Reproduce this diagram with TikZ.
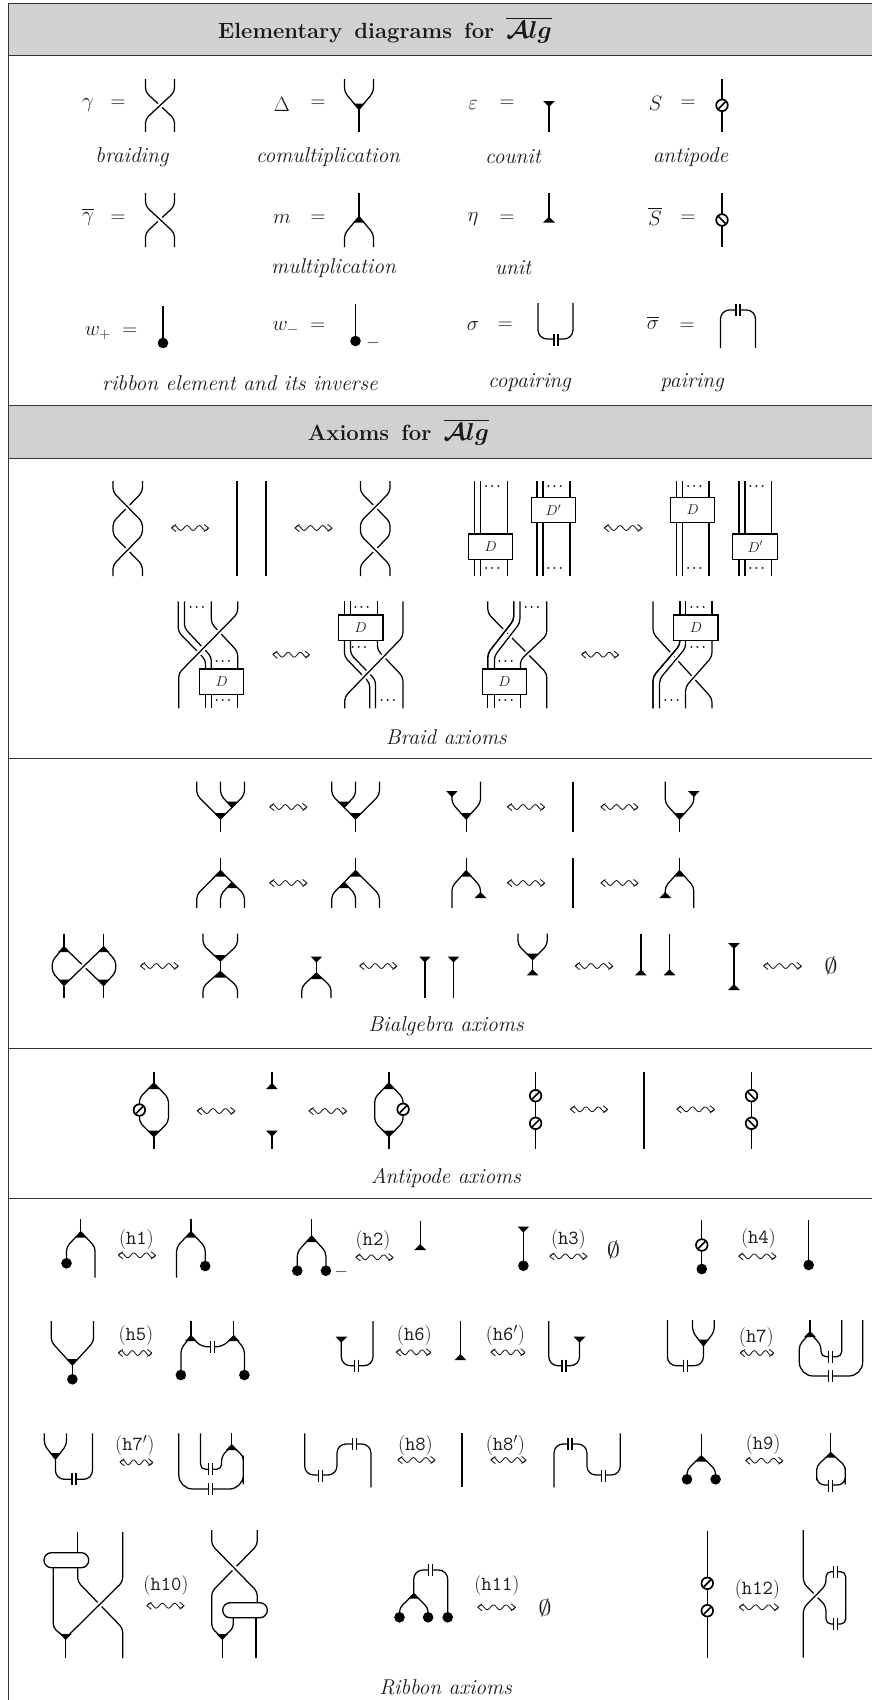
\documentclass[tikz,border=0pt]{standalone}
\usepackage{amsmath,amssymb,bm,graphicx}
\usetikzlibrary{decorations.pathmorphing,arrows.meta}
\newcounter{nd}
\tikzset{
 st/.style={line width=1.25pt,line join=round},
 rc/.style={rounded corners=4pt},
 over/.style={preaction={draw=white,line width=5.5pt}},
 lab/.style={inner sep=0pt,font=\huge,text=black!90},
 captxt/.style={lab,font=\fontsize{21.4}{25}\selectfont\itshape},
 hl/.style={lab,font=\fontsize{20}{23}\selectfont},
 headtxt/.style={lab,font=\fontsize{22}{26}\selectfont\bfseries},
 rule/.style={line width=1pt,draw=black!80},
 boxd/.style={draw,fill=white,line width=1.3pt},
 wav/.style={line width=.85pt,draw=black!90,line join=round},
}
\definecolor{hgray}{RGB}{208,209,211}
\newcommand\Tx[4][]{\stepcounter{nd}\node[lab,#1] (n\arabic{nd}) at (#2,#3) {#4};}
\newcommand\Dots[2]{\Tx[font=\large,text=black]{#1}{#2}{$\bm{\cdots}$}}
\newcommand\hh[3]{\Tx[hl]{#1}{#2}{(\texttt{#3})}}
\newcommand\Alg{$\scalebox{1.18}{$\overline{\bm{\mathcal{A}}\bm{lg}}$}$}
\newcommand\Emp{\scalebox{1.28}[1.05]{$\emptyset$}}
\newcommand\DnT[2]{\fill[black] ({#1-5.8},{#2-6})--({#1+5.8},{#2-6})--(#1,#2)--cycle;}
\newcommand\UpT[2]{\fill[black] ({#1-5.8},{#2+6})--({#1+5.8},{#2+6})--(#1,#2)--cycle;}
\newcommand\Dt[2]{\fill[black] (#1,#2) circle (5.3pt);}
\newcommand\Tk[2]{\fill[white] ({#1-2},{#2-3})rectangle({#1+2},{#2+3});
 \draw[st] ({#1-2},{#2-6})--({#1-2},{#2+6}) ({#1+2},{#2-6})--({#1+2},{#2+6});}
\newcommand\An[3]{\draw[fill=white,line width=1.7pt] (#1,#2) circle (5.8pt);
 \draw[line width=1.6pt] ({#1-#3*3.4},{#2+3.4})--({#1+#3*3.4},{#2-3.4});}
% comultiplication: x, dx, topL, topR, bend, apex, bottom
\newcommand\Cm[7]{\draw[st,rc] ({#1-#2},#3)--({#1-#2},#5)--(#1,#6);
 \draw[st,rc] ({#1+#2},#4)--({#1+#2},#5)--(#1,#6);
 \draw[st] (#1,#6)--(#1,#7); \DnT{#1}{#6}}
% multiplication: x, dx, top, apex, bend, botL, botR
\newcommand\Ml[7]{\draw[st] (#1,#3)--(#1,#4);
 \draw[st,rc] (#1,#4)--({#1-#2},#5)--({#1-#2},#6);
 \draw[st,rc] (#1,#4)--({#1+#2},#5)--({#1+#2},#7);
 \UpT{#1}{#4}}
\newcommand\Ln[3]{\draw[st] (#1,#2)--(#1,#3);}
\newcommand\Wv[3]{\draw[wav] plot[domain=0:1,samples=46,smooth] ({#1+(#2-#1)*\x},{#3-2.4*sin(1080*\x)});
 \draw[wav] ({#1+4.4},{#3-3.6})--(#1,#3)--({#1+4.4},{#3+3.6}) ({#2-4.4},{#3-3.6})--(#2,#3)--({#2-4.4},{#3+3.6});}
\newcommand\Bx[6]{\draw[boxd] (#1,#3) rectangle (#2,#4);
 \Tx[font=\Large]{{(#1+#2)/2}}{{(#3+#4)/2}}{$#5$}}
\newcommand\Rb[4]{\draw[boxd,rounded corners=7.4pt] (#1,#3) rectangle (#2,#4);}
\begin{document}
\begin{tikzpicture}[x=1pt,y=-1pt]
\useasboundingbox (0,0) rectangle (872,1700);
% frame and headers
\path[fill=hgray] (8,3) rectangle (872,55);
\path[fill=hgray] (8,405) rectangle (872,458);
\draw[rule] (8,3)--(872,3) (8,55)--(872,55) (8,405)--(872,405) (8,458)--(872,458);
\draw[rule] (8,3)--(8,1700);
\draw[rule] (8,758)--(872,758);
\draw[rule] (8,1048)--(872,1048);
\draw[rule] (8,1198.5)--(872,1198.5);
\Tx[headtxt]{385}{30}{\spaceskip=.55em Elementary diagrams for \Alg}
\Tx[headtxt]{398.4}{432}{\spaceskip=.55em Axioms for \Alg}
% row 1
\Tx{88}{105}{$\gamma$}\Tx{118}{104}{$=$}
\draw[st,rc] (145.5,79)--(145.5,92)--(174.5,119)--(174.5,132);
\draw[st,rc,over] (174.5,79)--(174.5,92)--(145.5,119)--(145.5,132);
\Tx{282}{104}{$\Delta$}\Tx{318}{104}{$=$}
\Cm{359}{14.5}{79}{79}{92}{109.5}{132}
\Tx{473}{105}{$\varepsilon$}\Tx{507}{104}{$=$}
\Ln{549}{101}{132}\DnT{549}{107}
\Tx{655.5}{103}{$S$}\Tx{688}{104}{$=$}
\Ln{722}{79}{132}\An{722}{105.3}{1}
\Tx[captxt]{132}{157}{braiding}\Tx[captxt]{328}{157}{comultiplication}\Tx[captxt]{513}{157}{counit}\Tx[captxt]{690.5}{157}{antipode}
% row 2
\Tx{88}{217}{$\overline{\gamma}$}\Tx{118}{219}{$=$}
\draw[st,rc] (174.5,193)--(174.5,206)--(145.5,233)--(145.5,247);
\draw[st,rc,over] (145.5,193)--(145.5,206)--(174.5,233)--(174.5,247);
\Tx{282}{219}{$m$}\Tx{318}{219}{$=$}
\Ml{359}{14.5}{193}{216.5}{234}{247}{247}
\Tx{473}{219}{$\eta$}\Tx{507}{219}{$=$}
\Ln{549}{193}{218}\UpT{549}{216.5}
\Tx{655}{216}{$\overline{S}$}\Tx{688}{219}{$=$}
\Ln{722}{193}{247}\An{722}{220}{-1}
\Tx[captxt]{333.5}{268}{multiplication}\Tx[captxt]{513}{268}{unit}
% row 3
\Tx{111}{333}{$w_{\mbox{\Large$+$}}\;=$}
\Ln{163}{306}{343}\Dt{163}{343}
\Tx{299}{328}{$w_{\mbox{\Large$-$}}\;=$}
\Ln{355.5}{304}{341}\Dt{355.5}{341}\Tx[font=\LARGE]{373}{343}{$-$}
\Tx{473}{326}{$\sigma$}\Tx{505}{326}{$=$}
\draw[st,rounded corners=9pt] (538,303)--(538,339)--(573,339)--(573,303);\Tk{556}{340}
\Tx{653}{323}{$\overline{\sigma}$}\Tx{687}{327}{$=$}
\draw[st,rounded corners=9pt] (720.5,348)--(720.5,310)--(755.5,310)--(755.5,348);\Tk{738}{310}
\Tx[captxt]{240}{383}{ribbon element and its inverse}\Tx[captxt]{529.5}{383}{copairing}\Tx[captxt]{692}{383}{pairing}
% Braid axioms, first row
\draw[st,rc] (142.4,481)--(142.4,492)--(113,522)--(113,535)--(142.4,565)--(142.4,576);
\draw[st,rc,over] (113,481)--(113,492)--(142.4,522)--(142.4,535)--(113,565)--(113,576);
\Wv{171.6}{208.5}{528}
\Ln{237}{481}{576}\Ln{266}{481}{576}
\Wv{295}{332}{528}
\draw[st,rc] (360.4,481)--(360.4,492)--(390,522)--(390,535)--(360.4,565)--(360.4,576);
\draw[st,rc,over] (390,481)--(390,492)--(360.4,522)--(360.4,535)--(390,565)--(390,576);
\Ln{474.6}{481}{576}\Ln{480.3}{481}{576}\Ln{507.6}{481}{576}
\Bx{468.5}{512.8}{534}{559.3}{D}{}
\Dots{493.5}{487}\Dots{493.5}{569}
\Ln{537}{481}{576}\Ln{543}{481}{576}\Ln{570}{481}{576}
\Bx{531.2}{575.6}{497.3}{522.7}{D'}{}
\Dots{555.8}{487}\Dots{555.8}{569}
\Wv{604.4}{642}{528}
\Ln{676.6}{481}{576}\Ln{682.7}{481}{576}\Ln{709}{481}{576}
\Bx{670.5}{714.8}{497.3}{522.7}{D}{}
\Dots{695.5}{487}\Dots{695.5}{569}
\Ln{739}{481}{576}\Ln{745}{481}{576}\Ln{771.5}{481}{576}
\Bx{732.8}{777.6}{534}{559.3}{D'}{}
\Dots{757.8}{487}\Dots{757.8}{569}
% Braid axioms, second row
\draw[st,rc] (178.2,601.3)--(178.2,631.7)--(205.6,660)--(205.6,669);
\draw[st,rc] (184.4,601.3)--(184.4,628)--(211.3,656.7)--(211.3,669);
\draw[st,rc] (211.3,601.3)--(211.3,623.3)--(237.7,651.7)--(237.7,669);
\draw[st,rc,over] (237.7,601.3)--(237.7,613.3)--(178.7,673.3)--(178.7,708.3);
\Ln{205.6}{694}{708.3}\Ln{211.3}{694}{708.3}\Ln{237.7}{694}{708.3}
\Bx{199.5}{243.8}{669}{694.3}{D}{}
\Dots{198}{607.7}\Dots{224}{661.7}\Dots{224}{701}
\Wv{273}{309.4}{654.7}
\Ln{344.4}{601.3}{615}\Ln{350.5}{601.3}{615}\Ln{377.4}{601.3}{615}
\draw[st,rc] (344.4,640)--(344.4,656.7)--(369.8,683)--(369.8,708.3);
\draw[st,rc] (350.5,640)--(350.5,654)--(375.5,680)--(375.5,708.3);
\draw[st,rc] (377.4,640)--(377.4,650)--(402.9,676.7)--(402.9,708.3);
\draw[st,rc,over] (402.9,601.3)--(402.9,636.7)--(344.8,696.7)--(344.8,708.3);
\Bx{338.2}{383}{615}{640.3}{D}{}
\Dots{362.8}{607.7}\Dots{360}{647.3}\Dots{389}{701}
\draw[st,rc] (487.8,601.3)--(487.8,613.3)--(546.8,673.3)--(546.8,708.3);
\draw[st,rc,over] (513.8,601.3)--(513.8,620)--(487.8,653.3)--(487.8,669);
\draw[st,rc,over] (519.9,601.3)--(519.9,623)--(494.4,656)--(494.4,669);
\draw[st,rc,over] (546.8,601.3)--(546.8,635)--(520.4,660)--(520.4,669);
\draw[st,rc] (513.8,601.3)--(513.8,620)--(487.8,653.3)--(487.8,669);
\Ln{487.8}{694}{708.3}\Ln{494.4}{694}{708.3}\Ln{520.4}{694}{708.3}
\Bx{482.2}{526.5}{669}{694.3}{D}{}
\Dots{533}{607.7}\Dots{506.7}{661.7}\Dots{506.7}{701}
\Wv{581.7}{618.5}{654.7}
\Ln{679.9}{601.3}{615}\Ln{685.6}{601.3}{615}\Ln{712}{601.3}{615}
\draw[st,rc] (653,601.3)--(653,633.3)--(712,698.3)--(712,708.3);
\draw[st,rc,over] (679.9,640)--(679.9,645)--(653,676.7)--(653,708.3);
\draw[st,rc,over] (685.6,640)--(685.6,648)--(659.6,679)--(659.6,708.3);
\draw[st,rc] (679.9,640)--(679.9,645)--(653,676.7)--(653,708.3);
\draw[st,rc,over] (712,640)--(712,656.7)--(685.6,686.7)--(685.6,708.3);
\Bx{673.8}{718.1}{615}{640.3}{D}{}
\Dots{698.8}{607.7}\Dots{698.8}{647.3}\Dots{672.8}{701}
\Tx[captxt]{446.3}{737}{Braid axioms}
% Bialgebra row 1
\Cm{220.6}{23.8}{781.7}{781.7}{795}{819}{831.7}
\draw[st,rc] (220.6,781.7)--(220.6,795)--(232.2,807.7);\DnT{232.2}{807.7}
\Wv{269.8}{306.9}{807}
\Cm{355.6}{23.8}{781.7}{781.7}{795}{819}{831.7}
\draw[st,rc] (355.6,781.7)--(355.6,795)--(344,807.7);\DnT{344}{807.7}
\Cm{466.2}{14.3}{792}{781.7}{803}{819}{831.7}\DnT{451.9}{797}
\Wv{507.5}{544.6}{807}
\Ln{573}{781.7}{831.7}
\Wv{601}{638}{807}
\Cm{679.5}{14.3}{781.7}{792}{803}{819}{831.7}\DnT{693.8}{797}
% Bialgebra row 2
\Ml{220.6}{23.8}{857.7}{870.7}{894.7}{908}{908}
\draw[st,rc] (220.6,908)--(220.6,894.7)--(232.2,882);\UpT{232.2}{882}
\Wv{269.8}{306.9}{883}
\Ml{355.6}{23.8}{857.7}{870.7}{894.7}{908}{908}
\draw[st,rc] (355.6,908)--(355.6,894.7)--(344,882);\UpT{344}{882}
\Ml{466.2}{14.3}{857.7}{870.7}{886.7}{908}{897.7}\UpT{480.5}{892}
\Wv{507.5}{544.6}{883}
\Ln{573}{857.7}{908}
\Wv{601}{638}{883}
\Ml{679.5}{14.3}{857.7}{870.7}{886.7}{897.7}{908}\UpT{665.2}{892}
% Bialgebra row 3
\Ln{63.9}{933.7}{947}\Ln{103.6}{933.7}{947}\Ln{63.9}{985}{998}\Ln{103.6}{985}{998}
\draw[st,rc] (63.9,947)--(52.2,961)--(52.2,972)--(63.9,985.5);
\draw[st,rc] (103.6,947)--(115.8,961)--(115.8,972)--(103.6,985.5);
\draw[st] (63.9,947)--(103.6,985.5);
\draw[st,over] (103.6,947)--(63.9,985.5);
\UpT{63.9}{946}\UpT{103.6}{946}\DnT{63.9}{985.5}\DnT{103.6}{985.5}
\Wv{140.6}{178.2}{966}
\Cm{220.3}{17.2}{933.7}{933.7}{945}{961}{972}
\Ml{220.3}{17.2}{972}{971.5}{986.7}{998}{998}
\DnT{316.4}{962.5}\Ml{316.4}{14.6}{958}{973}{986.7}{998}{998}
\Wv{359.8}{396.9}{966}
\Ln{424.9}{958}{998}\DnT{424.9}{962.5}\Ln{453.5}{958}{998}\DnT{453.5}{962.5}
\Cm{532.6}{14.6}{933.7}{933.7}{945}{959.5}{972}\UpT{532.6}{969.3}
\Wv{575.3}{612.8}{966}
\Ln{640.9}{933.7}{971}\UpT{640.9}{969.3}\Ln{669.5}{933.7}{971}\UpT{669.5}{969.3}
\Ln{734}{945}{986}\DnT{734}{949}\UpT{734}{984}
\Wv{763.7}{801.3}{966}
\Tx{831}{966}{\Emp}
\Tx[captxt]{446}{1026.7}{Bialgebra axioms}
% Antipode
\Ml{153.9}{14.5}{1071.7}{1083}{1098}{1110}{1110}
\Cm{153.9}{14.5}{1110}{1110}{1122}{1136.7}{1148.7}
\An{139.4}{1110}{1}
\Wv{197.3}{234.9}{1111}
\Ln{271.9}{1071.7}{1085}\UpT{271.9}{1083}\Ln{271.9}{1134}{1148.7}\DnT{271.9}{1136.7}
\Wv{309}{346.6}{1111}
\Ml{388.9}{14.2}{1071.7}{1083}{1098}{1110}{1110}
\Cm{388.9}{14.2}{1110}{1110}{1122}{1136.7}{1148.7}
\An{403.1}{1109.3}{1}
\Ln{535.6}{1071.7}{1148.7}\An{535.6}{1095.7}{1}\An{535.6}{1123.3}{1}
\Wv{570.5}{607.6}{1109.3}
\Ln{644}{1071.7}{1148.7}
\Wv{676.9}{714.5}{1109.3}
\Ln{751.5}{1071.7}{1148.7}\An{751.5}{1095.7}{-1}\An{751.5}{1123.3}{-1}
\Tx[captxt]{446}{1177.7}{Antipode axioms}
% Ribbon row 1
\Ml{80.8}{14.3}{1219}{1231.7}{1247}{1263}{1277.7}\Dt{66.5}{1263.3}
\hh{136.4}{1239.3}{h1}\Wv{118.4}{155.5}{1255.3}
\Ml{190.9}{14.3}{1219}{1231.7}{1247}{1277.7}{1266}\Dt{205.2}{1266}
\Ml{311.6}{14.3}{1219}{1236}{1252}{1270.7}{1270.7}\Dt{297.3}{1270.7}\Dt{325.9}{1270.7}
\Tx[font=\LARGE]{341.3}{1272.3}{$-$}
\hh{373}{1240.7}{h2}\Wv{356}{393}{1257.3}
\Ln{420.2}{1220.7}{1246}\UpT{420.2}{1244}
\Ln{523.4}{1228}{1265.7}\DnT{523.4}{1232.5}\Dt{523.4}{1265.7}
\hh{568.4}{1239.3}{h3}\Wv{549.9}{586.9}{1256.3}
\Tx{613.4}{1250}{\Emp}
\Ln{701.8}{1220}{1269}\An{701.8}{1245}{1}\Dt{701.8}{1269}
\hh{758.4}{1238.3}{h4}\Wv{738.8}{775.9}{1256.3}
\Ln{808.7}{1220}{1265}\Dt{808.7}{1265}
% Ribbon row 2
\Cm{72.4}{21.2}{1321}{1321}{1341.7}{1365}{1379}\Dt{72.4}{1379.3}
\hh{135.9}{1335}{h5}\Wv{118.4}{151.8}{1353}
\Ln{190.9}{1321}{1336}\Ln{233.8}{1321}{1336}
\draw[st,rc] (190.9,1336)--(180.9,1349)--(180.9,1375);
\draw[st,rc] (233.8,1336)--(244.4,1349)--(244.4,1375);
\draw[st,rounded corners=6pt] (190.9,1336)--(201,1346.7)--(222.5,1346.7)--(233.8,1336);
\UpT{190.9}{1335}\UpT{233.8}{1335}\Dt{180.9}{1375}\Dt{244.4}{1375}\Tk{212.3}{1347}
\draw[st,rounded corners=9pt] (341.3,1338)--(341.3,1365.7)--(373,1365.7)--(373,1321);
\DnT{341.3}{1342.7}\Tk{356.6}{1365.7}
\hh{414.3}{1335.7}{h6}\Wv{396.3}{430.7}{1352.3}
\Ln{460.4}{1321}{1356}\UpT{460.4}{1354}
\Tx[hl]{505.4}{1335.7}{(\texttt{h6}$'$)}\Wv{491}{525}{1352.3}
\draw[st,rounded corners=9pt] (548.8,1321)--(548.8,1365.7)--(579.5,1365.7)--(579.5,1338);
\DnT{579.5}{1342.7}\Tk{564.1}{1365.7}
\draw[st,rounded corners=9pt] (667.4,1320)--(667.4,1365.7)--(703.4,1365.7)--(703.4,1345);
\Cm{703.4}{10.85}{1320}{1320}{1331.7}{1345.7}{1346}\Tk{685.4}{1365.7}
\hh{756.3}{1337.3}{h7}\Wv{740.4}{773.8}{1353}
\Ln{810}{1320}{1334}
\draw[st] (810,1333) [rounded corners=4pt] --(799.3,1345)--(799.3,1358) [rounded corners=14pt] --(799.3,1376)--(862.7,1376)--(862.7,1320);
\draw[st,rounded corners=5pt] (810,1333)--(821,1345)--(821,1356.7)--(841.7,1356.7)--(841.7,1320);
\UpT{810}{1331}\Tk{830.7}{1356.7}\Tk{830.7}{1376.3}
% Ribbon row 3
\Cm{55.4}{11.1}{1433.3}{1433.3}{1445}{1459}{1462}
\draw[st,rounded corners=9pt] (55.4,1458)--(55.4,1479.3)--(92.5,1479.3)--(92.5,1433.3);\Tk{73.9}{1479.3}
\Tx[hl]{134.8}{1445.7}{(\texttt{h7}$'$)}\Wv{120}{152.8}{1462.3}
\Ln{231.7}{1433.3}{1446}
\draw[st] (178.8,1433.3) [rounded corners=14pt] --(178.8,1489)--(243.3,1489)--(243.3,1470) [rounded corners=4pt] --(243.3,1456)--(231.7,1446);
\draw[st,rounded corners=5pt] (200.5,1433.3)--(200.5,1469.3)--(221.6,1469.3)--(221.6,1456)--(231.7,1446);
\UpT{231.7}{1444}\Tk{210.5}{1469.3}\Tk{210.5}{1489}
\draw[st,rounded corners=9pt] (304.7,1433.3)--(304.7,1475)--(337,1475)--(337,1444)--(370.9,1444)--(370.9,1487.3);
\Tk{320.6}{1475.5}\Tk{354.5}{1444}
\hh{415.4}{1445.7}{h8}\Wv{397.9}{435}{1460}
\Ln{462}{1433}{1487.3}
\Tx[hl]{505.4}{1445.7}{(\texttt{h8}$'$)}\Wv{491}{526}{1460}
\draw[st,rounded corners=9pt] (554,1487.3)--(554,1444)--(586.9,1444)--(586.9,1475)--(620.3,1475)--(620.3,1433.3);
\Tk{570}{1444}\Tk{603.3}{1475.5}
\Ml{701.3}{14.3}{1434}{1455.7}{1470}{1479.3}{1479.3}\Dt{687}{1479.3}\Dt{715.6}{1479.3}
\hh{763.2}{1444}{h9}\Wv{745.7}{782.8}{1460.7}
\Ln{830.7}{1433.3}{1454}
\draw[st] (830.7,1453) [rounded corners=4pt] --(816.7,1466)--(816.7,1476) [rounded corners=8pt] --(816.7,1485)--(845.3,1485)--(845.3,1476) [rounded corners=4pt] --(845.3,1466)--(830.7,1453);
\UpT{830.7}{1451.7}\Tk{830.7}{1485.7}
% Ribbon row 4
\Ln{77.7}{1532}{1553}
\draw[st,rc] (77.7,1567.7)--(77.7,1581.7)--(122.7,1628.3)--(122.7,1658.3);
\draw[st,rc,over] (122.7,1532)--(122.7,1581.7)--(65.7,1638);
\draw[st,rc] (53.3,1567.7)--(53.3,1628)--(65.7,1638);
\Rb{44}{88.7}{1552.7}{1567.7}
\Ln{65.7}{1638}{1658}\DnT{65.7}{1640}
\hh{166}{1585.7}{h10}\Wv{147}{184}{1605.7}
\draw[st,rc] (257.3,1530)--(257.3,1545)--(211.7,1591.7)--(211.7,1628)--(222.3,1638);
\draw[st,rc,over] (211.7,1530)--(211.7,1545)--(257.3,1591.7)--(257.3,1603);
\draw[st,rc] (233.3,1617.7)--(233.3,1628)--(222.3,1638);
\Ln{256}{1617.7}{1658}\Ln{222.3}{1638}{1658}\DnT{222.3}{1640}
\Rb{222.7}{267.3}{1602.7}{1617.7}
\draw[st,rounded corners=9pt] (413.8,1595)--(413.8,1570)--(447.7,1570)--(447.7,1617.3);\Tk{430.7}{1570}
\draw[st,rc] (413.8,1594)--(399.5,1608)--(399.5,1617.3);
\draw[st,rc] (413.8,1594)--(428.1,1608)--(428.1,1617.3);
\UpT{413.8}{1592.7}\Dt{399.5}{1617.3}\Dt{428.1}{1617.3}\Dt{447.7}{1617.3}
\hh{496.9}{1585.7}{h11}\Wv{477.8}{515.4}{1607.3}
\Tx{545.1}{1608.3}{\Emp}
\Ln{707.3}{1530.7}{1657.7}\An{707.3}{1583.3}{1}\An{707.3}{1610.7}{1}
\hh{757.4}{1589}{h12}\Wv{739.4}{778.5}{1607.3}
\draw[st,rounded corners=5pt] (803.3,1530)--(803.3,1583)--(826,1606)--(826,1624)--(845.7,1624)--(845.7,1600);
\draw[st,rounded corners=5pt,over] (845.7,1600)--(845.7,1571.7)--(826,1571.7)--(826,1585)--(803.3,1608)--(803.3,1657.7);
\Tk{835.3}{1571.7}\Tk{835.3}{1624}
\Tx[captxt]{445.6}{1687.7}{Ribbon axioms}
\end{tikzpicture}
\end{document}
